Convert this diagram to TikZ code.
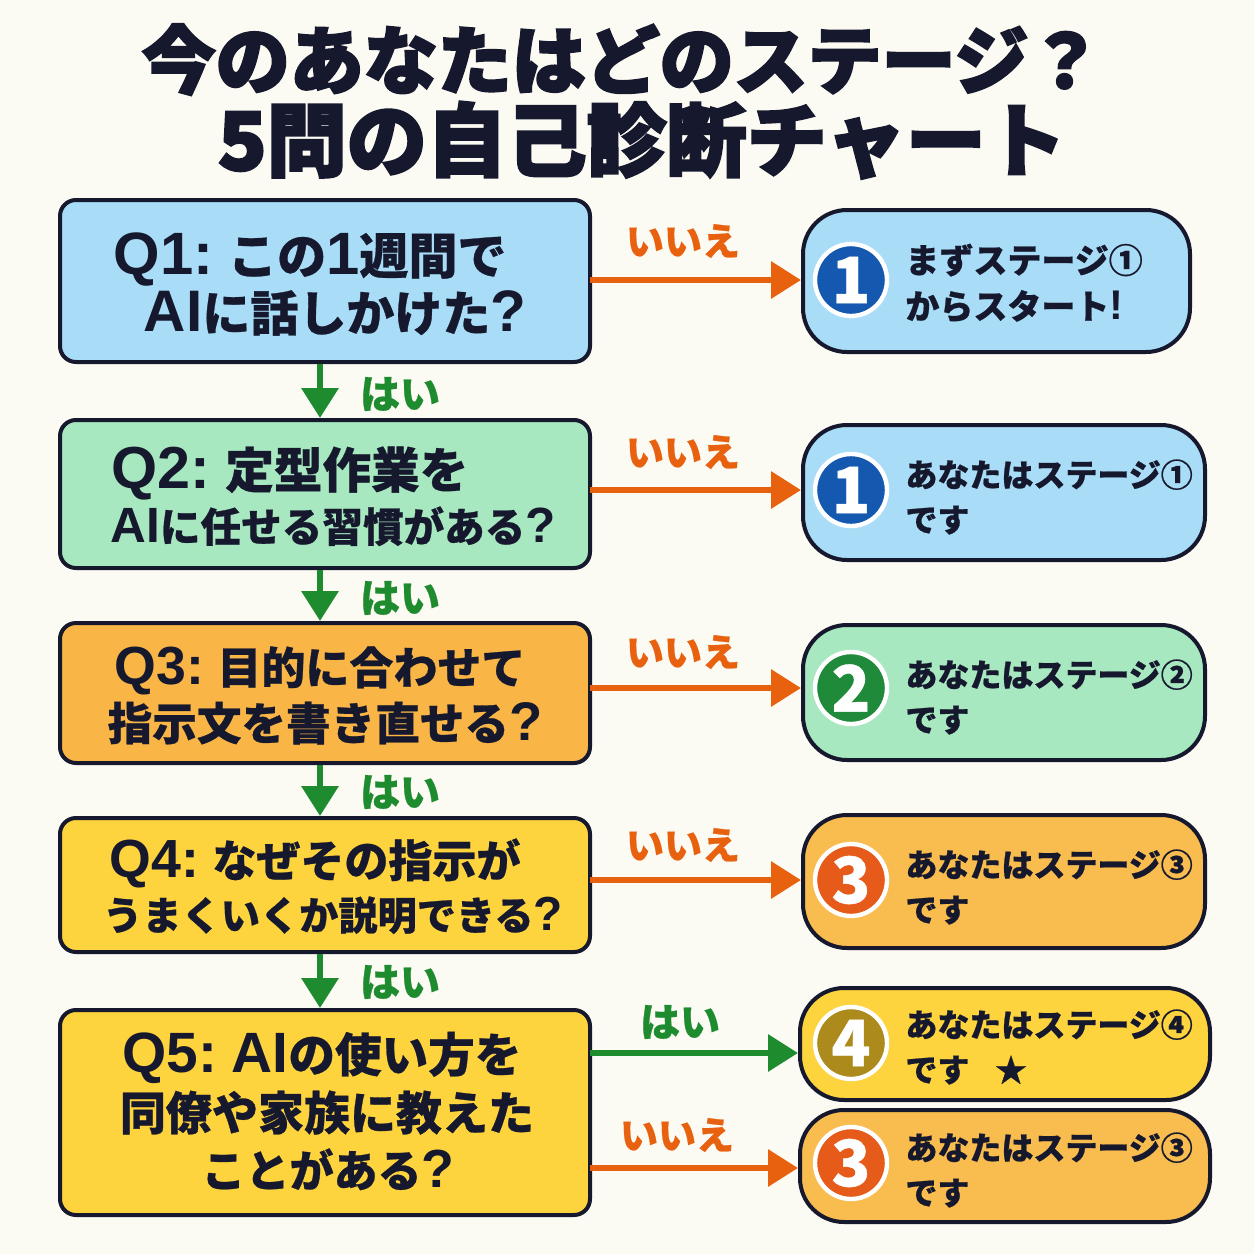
\documentclass[tikz,border=0pt]{standalone}
\usepackage{fontspec}
\setmainfont{Noto Sans CJK JP}[BoldFeatures={FakeBold=0.6}]
\newfontfamily\titlefont{Noto Sans CJK JP}[BoldFeatures={FakeBold=3}]
\newfontfamily\latinfont{Liberation Sans}[Scale=1.22]
\newcommand\lat[1]{{\latinfont\bfseries #1}}
\newcommand\qf[1]{\fontsize{#1pt}{#1pt}\selectfont\bfseries}
\usetikzlibrary{arrows.meta}
\definecolor{bgc}{HTML}{FBFAF3}
\definecolor{ink}{HTML}{16192E}
\definecolor{qblue}{HTML}{A9DDF7}
\definecolor{qgreen}{HTML}{A8E8C0}
\definecolor{qorange}{HTML}{F9B647}
\definecolor{qyellow}{HTML}{FDD33E}
\definecolor{rorange}{HTML}{F9BC4E}
\definecolor{aorange}{HTML}{E8610E}
\definecolor{agreen}{HTML}{1E8B2F}
\definecolor{bblue}{HTML}{1558B0}
\definecolor{bgreen}{HTML}{1E8A3A}
\definecolor{borange}{HTML}{E65A1A}
\definecolor{bgold}{HTML}{AD8A1C}
\tikzset{
  qbox/.style={draw=ink, line width=2pt, rounded corners=8pt, minimum width=265pt, inner sep=0pt},
  rbox/.style={draw=ink, line width=2pt, rounded corners=22pt, inner sep=0pt},
  qline/.style={text=ink, anchor=base, inner sep=0pt},
  rtext/.style={text=ink, align=left, anchor=west, font=\fontsize{16pt}{22.5pt}\selectfont\bfseries, inner sep=0pt},
  badge/.style={circle, draw=white, line width=2.2pt, minimum size=36pt, inner sep=0pt, text=white, font=\fontsize{32pt}{32pt}\selectfont\bfseries},
  noarrow/.style={draw=aorange, line width=3.2pt, -{Triangle[length=15pt,width=18pt]}},
  yesarrow/.style={draw=agreen, line width=3.2pt, -{Triangle[length=15pt,width=18pt]}},
  nolabel/.style={text=aorange, font=\fontsize{19pt}{19pt}\selectfont\bfseries, inner sep=0pt},
  yeslabel/.style={text=agreen, font=\fontsize{20pt}{20pt}\selectfont\bfseries, inner sep=0pt},
  ttl/.style={text=ink, anchor=base, inner sep=0pt},
}
\begin{document}
\begin{tikzpicture}[x=0.5pt,y=-0.5pt]
\useasboundingbox (0,0) rectangle (1254,1254);
\fill[bgc] (0,0) rectangle (1254,1254);
% title
\node[ttl, font=\titlefont\bfseries\fontsize{37pt}{37pt}\selectfont] (title1) at (622,88) {今のあなたはどのステージ？};
\node[ttl, font=\titlefont\bfseries\fontsize{40pt}{40pt}\selectfont] (title2) at (642,170) {5問の自己診断チャート};
% question boxes
\node[qbox, fill=qblue, minimum height=81pt] (q1) at (325,281) {};
\node[qbox, fill=qgreen, minimum height=74pt] (q2) at (325,494) {};
\node[qbox, fill=qorange, minimum height=70pt] (q3) at (325,693) {};
\node[qbox, fill=qyellow, minimum height=67pt] (q4) at (325,885) {};
\node[qbox, fill=qyellow, minimum height=102.5pt] (q5) at (325,1112.5) {};
% question texts
\node[qline, font=\qf{24.5}] (q1a) at (310,274) {\lat{Q1:} この\lat{1}週間で};
\node[qline, font=\qf{24}] (q1b) at (335,331) {\lat{AI}に話しかけた\lat{?}};
\node[qline, font=\qf{24.3}] (q2a) at (290,488) {\lat{Q2:} 定型作業を};
\node[qline, font=\qf{20.3}] (q2b) at (333,542) {\lat{AI}に任せる習慣がある\lat{?}};
\node[qline, font=\qf{22}] (q3a) at (320,684) {\lat{Q3:} 目的に合わせて};
\node[qline, font=\qf{22.3}] (q3b) at (325,740) {指示文を書き直せる\lat{?}};
\node[qline, font=\qf{22}] (q4a) at (315,877) {\lat{Q4:} なぜその指示が};
\node[qline, font=\qf{19.6}] (q4b) at (333,930) {うまくいくか説明できる\lat{?}};
\node[qline, font=\qf{23.3}] (q5a) at (322,1072) {\lat{Q5:} \lat{AI}の使い方を};
\node[qline, font=\qf{23}] (q5b) at (327,1130) {同僚や家族に教えた};
\node[qline, font=\qf{22}] (q5c) at (328,1187) {ことがある\lat{?}};
% result boxes
\node[rbox, fill=qblue, minimum width=193.5pt, minimum height=71pt] (r1) at (996.5,281) {};
\node[rbox, fill=qblue, minimum width=201pt, minimum height=67.5pt] (r2) at (1004,492.5) {};
\node[rbox, fill=qgreen, minimum width=201pt, minimum height=67.5pt] (r3) at (1004,692.5) {};
\node[rbox, fill=rorange, minimum width=201pt, minimum height=66.5pt] (r4) at (1004,881.5) {};
\node[rbox, fill=qyellow, minimum width=205pt, minimum height=56pt] (r5) at (1005,1044) {};
\node[rbox, fill=rorange, minimum width=205pt, minimum height=56pt] (r6) at (1005,1166) {};
% badges
\node[badge, fill=bblue] (b1) at (851,280) {1};
\node[badge, fill=bblue] (b2) at (851,490) {1};
\node[badge, fill=bgreen] (b3) at (851,688) {2};
\node[badge, fill=borange] (b4) at (851,880) {3};
\node[badge, fill=bgold] (b5) at (851,1043) {4};
\node[badge, fill=borange] (b6) at (851,1163) {3};
% result texts
\node[rtext, font=\fontsize{17pt}{23pt}\selectfont\bfseries] (t1) at (905,283) {まずステージ①\\からスタート\lat{!}};
\node[rtext] (t2) at (905,497) {あなたはステージ①\\です};
\node[rtext] (t3) at (905,697) {あなたはステージ②\\です};
\node[rtext] (t4) at (905,887) {あなたはステージ③\\です};
\node[rtext] (t5) at (905,1047) {あなたはステージ④\\です\hspace{0.8em}★};
\node[rtext] (t6) at (905,1170) {あなたはステージ③\\です};
% down arrows
\draw[yesarrow] (q1.south -| 320,0) -- (q2.north -| 320,0);
\draw[yesarrow] (q2.south -| 320,0) -- (q3.north -| 320,0);
\draw[yesarrow] (q3.south -| 320,0) -- (q4.north -| 320,0);
\draw[yesarrow] (q4.south -| 320,0) -- (q5.north -| 320,0);
\node[yeslabel] (y1) at (400,394) {はい};
\node[yeslabel] (y2) at (400,598) {はい};
\node[yeslabel] (y3) at (400,792) {はい};
\node[yeslabel] (y4) at (400,982) {はい};
% side arrows
\coordinate (a1) at (590,280);
\coordinate (a2) at (590,490);
\coordinate (a3) at (590,688);
\coordinate (a4) at (590,880);
\coordinate (a5) at (590,1053);
\coordinate (a6) at (590,1168);
\draw[noarrow] (a1) -- (a1 -| r1.west);
\draw[noarrow] (a2) -- (a2 -| r2.west);
\draw[noarrow] (a3) -- (a3 -| r3.west);
\draw[noarrow] (a4) -- (a4 -| r4.west);
\draw[yesarrow] (a5) -- (a5 -| r5.west);
\draw[noarrow] (a6) -- (a6 -| r6.west);
\node[nolabel] (n1) at (683,241) {いいえ};
\node[nolabel] (n2) at (683,452) {いいえ};
\node[nolabel] (n3) at (683,652) {いいえ};
\node[nolabel] (n4) at (683,845) {いいえ};
\node[yeslabel] (y5) at (680,1022) {はい};
\node[nolabel] (n6) at (677,1135) {いいえ};
\end{tikzpicture}
\end{document}
